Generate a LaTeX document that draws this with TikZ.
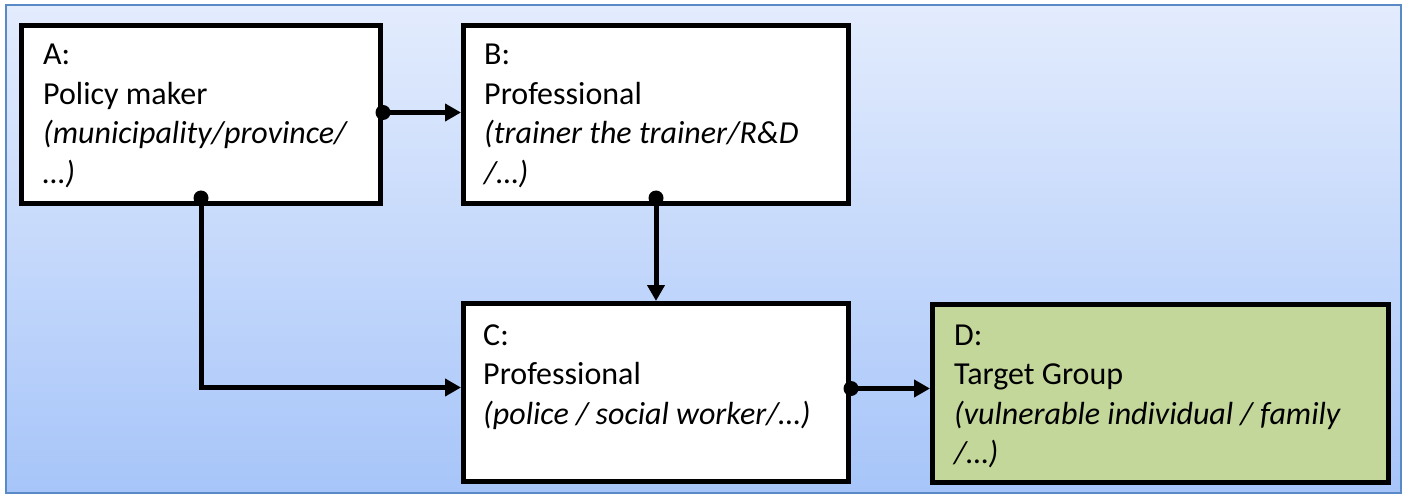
\documentclass[tikz,border=0pt]{standalone}
\usepackage{fontspec}
\setmainfont{Carlito}
\usetikzlibrary{arrows.meta}
\definecolor{bgtop}{HTML}{E3ECFD}
\definecolor{bgbot}{HTML}{A7C5F9}
\definecolor{framec}{HTML}{5A8AC6}
\definecolor{dgreen}{HTML}{C4D79B}
\begin{document}
\begin{tikzpicture}[x=1pt,y=-1pt,
  box/.style={draw=black, line width=5pt, fill=white, inner sep=0pt, anchor=north west, minimum height=178pt},
  txt/.style={anchor=base west, inner sep=0pt, font=\fontsize{32}{39.5}\selectfont},
  conn/.style={line width=5pt, -{Triangle[length=16pt,width=17pt]}},
  dot/.style={fill=black}
]
\useasboundingbox (0,0) rectangle (1407,494);
\fill[white] (0,0) rectangle (1407,494);
\shade[top color=bgtop, bottom color=bgbot] (6,5) rectangle (1401,493);
\draw[framec, line width=2pt] (6,5) rectangle (1401,493);

\node[box, minimum width=359pt] (A) at (19,23) {};
\node[box, minimum width=385pt] (B) at (461,23) {};
\node[box, minimum width=385pt] (C) at (461,301) {};
\node[box, minimum width=456pt, fill=dgreen] (D) at (930,302) {};

\node[txt] (At) at (43,65) {\parbox[t]{330pt}{A:\\Policy maker\\\textit{(municipality/province/}\\\textit{…)}}};
\node[txt] (Bt) at (484,65) {\parbox[t]{350pt}{B:\\Professional\\\textit{(trainer the trainer/R\&D}\\\textit{/…)}}};
\node[txt] (Ct) at (483,345) {\parbox[t]{350pt}{C:\\Professional\\\textit{(police / social worker/…)}}};
\node[txt] (Dt) at (954,345) {\parbox[t]{420pt}{D:\\Target Group\\\textit{(vulnerable individual / family}\\\textit{/…)}}};

\coordinate (a1) at ([yshift=2pt]A.east);
\coordinate (a2) at ([yshift=8pt]A.south);
\coordinate (b1) at ([yshift=8pt]B.south);
\coordinate (c1) at ([yshift=4pt]C.east);
\coordinate (cin) at ([yshift=5pt]C.west);

\draw[conn] (a1) -- (a1 -| B.west);
\draw[conn] (a2) |- (cin);
\draw[conn] (b1) -- (C.north);
\draw[conn] (c1) -- (c1 -| D.west);

\fill[dot] (a1) circle (7.5);
\fill[dot] (a2) circle (7.5);
\fill[dot] (b1) circle (7.5);
\fill[dot] (c1) circle (7.5);
\end{tikzpicture}
\end{document}
